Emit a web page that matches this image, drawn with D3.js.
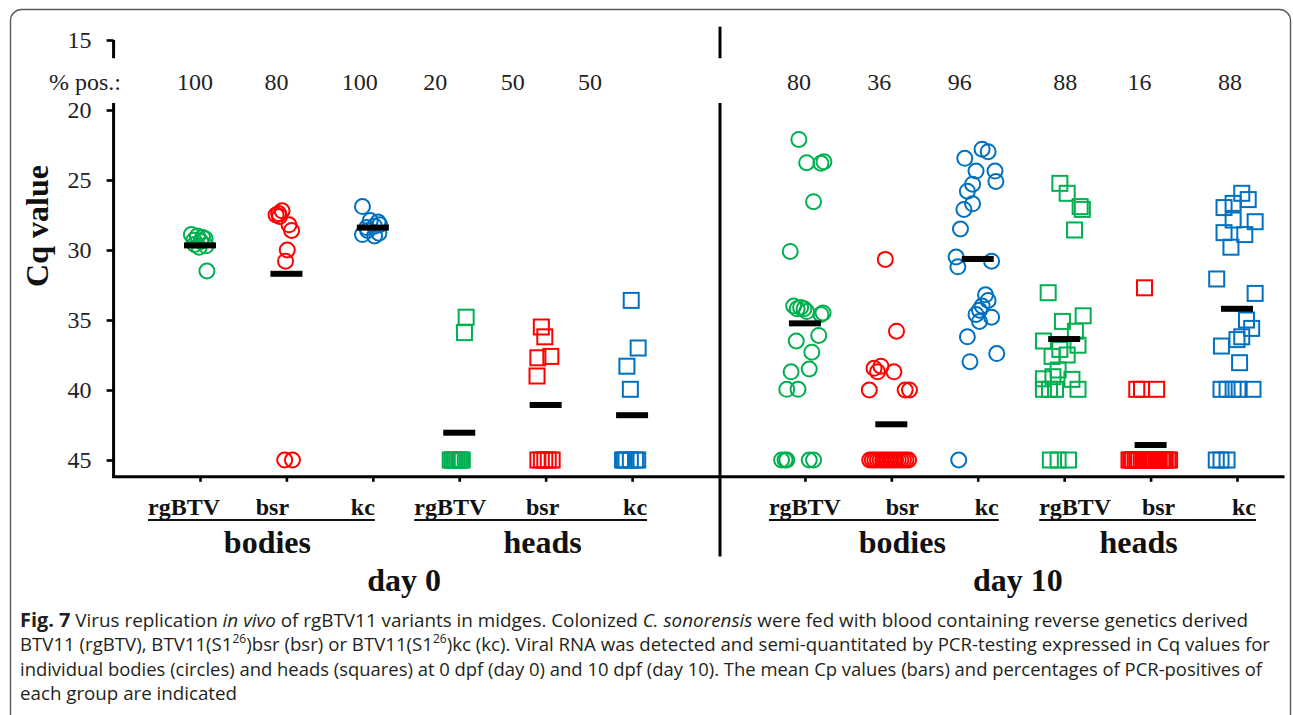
<!DOCTYPE html>
<html>
<head>
<meta charset="utf-8">
<script src="https://cdn.jsdelivr.net/npm/d3@7"></script>
<style>
  html, body { margin: 0; padding: 0; background: #fff; }
  svg { display: block; }
</style>
</head>
<body>
<svg id="chart" width="1293" height="715"></svg>
<script>
// ---------------- data ----------------
const days = ["day 0", "day 10"];
const tissues = ["bodies", "heads"];
const variants = ["rgBTV", "bsr", "kc"];
const yTickValues = [15, 20, 25, 30, 35, 40, 45];

// percentage of PCR-positive midges per group (order: day, tissue, variant)
const pctPositive = [100, 80, 100, 20, 50, 50, 80, 36, 96, 88, 16, 88];
// mean Cq per group (negatives counted as 45)
const meanCq = [29.67, 31.7, 28.4, 43.05, 41.07, 41.8, 35.24, 42.45, 30.64, 36.36, 43.93, 34.2];

// individual Cq values, day 0
const cqD0BodiesRg = [28.9, 29.0, 29.1, 29.2, 29.3, 29.4, 29.6, 29.7, 29.8, 31.5];
const cqD0BodiesBsr = [27.2, 27.4, 27.5, 27.6, 28.2, 28.6, 30.0, 30.8, 45, 45];
const cqD0BodiesKc = [26.9, 27.9, 28.0, 28.2, 28.3, 28.4, 28.6, 28.8, 28.9, 29.0];
const cqD0HeadsRg = [34.8, 35.9, 45, 45, 45, 45, 45, 45, 45, 45];
const cqD0HeadsBsr = [35.5, 36.2, 37.6, 37.7, 39.0, 45, 45, 45, 45, 45];
const cqD0HeadsKc = [33.6, 37.0, 38.3, 39.95, 45, 45, 45, 45, 45, 45];

// individual Cq values, day 10
const cqD10BodiesRg = [22.1, 23.76, 23.8, 23.7, 26.55, 30.1, 34.0, 34.2, 34.1, 34.2, 34.4, 34.6, 34.5,
  36.1, 36.5, 37.3, 38.5, 38.7, 39.95, 39.95, 45, 45, 45, 45, 45];
const cqD10BodiesBsr = [30.67, 35.8, 38.45, 38.3, 38.7, 38.7, 40, 40, 40,
  45, 45, 45, 45, 45, 45, 45, 45, 45, 45, 45, 45, 45, 45, 45, 45];
const cqD10BodiesKc = [23.45, 22.8, 22.98, 24.36, 24.36, 25.1, 25.3, 25.8, 26.7, 27.1, 28.5, 30.5, 31.2,
  30.8, 33.2, 33.6, 34.0, 34.8, 34.3, 34.6, 35.1, 36.2, 37.4, 37.98, 45];
const cqD10HeadsRg = [25.24, 25.95, 26.9, 27.1, 28.57, 33.05, 34.7, 35.1, 35.8, 36.5, 36.8, 37.6, 37.5,
  37.1, 38.57, 39.2, 39.05, 39.24, 39.95, 39.95, 39.95, 39.95, 45, 45, 45];
const cqD10HeadsBsr = [32.7, 39.95, 39.95, 39.95,
  45, 45, 45, 45, 45, 45, 45, 45, 45, 45, 45, 45, 45, 45, 45, 45, 45, 45, 45, 45, 45];
const cqD10HeadsKc = [25.95, 26.4, 26.67, 26.97, 27.98, 27.86, 28.76, 28.9, 29.8, 32.07, 33.1, 35.0, 35.6,
  36.2, 36.4, 36.86, 38.05, 39.95, 39.95, 39.95, 39.95, 39.95, 45, 45, 45];

const cqByGroup = [cqD0BodiesRg, cqD0BodiesBsr, cqD0BodiesKc, cqD0HeadsRg, cqD0HeadsBsr, cqD0HeadsKc,
  cqD10BodiesRg, cqD10BodiesBsr, cqD10BodiesKc, cqD10HeadsRg, cqD10HeadsBsr, cqD10HeadsKc];

// ---------------- layout ----------------
// horizontal spread of the dots inside a group, in category-slot units
const spreadByGroup = [
  [-0.10, -0.03, 0.03, 0.06, -0.07, 0.01, -0.06, 0.07, -0.01, 0.08],
  [-0.05, -0.09, -0.12, -0.08, 0.03, 0.06, 0.01, -0.01, -0.02, 0.07],
  [-0.12, -0.03, 0.06, 0.08, 0.02, -0.07, -0.06, 0.07, -0.12, 0.02],
  [0.08, 0.06, -0.105, -0.085, -0.065, -0.045, -0.025, -0.005, 0.015, 0.035],
  [-0.05, -0.01, 0.06, -0.09, -0.10, -0.09, -0.05, -0.01, 0.03, 0.075],
  [-0.01, 0.07, -0.06, -0.02, -0.11, -0.09, -0.07, -0.02, 0.04, 0.065],
  [-0.07, 0.02, 0.185, 0.22, 0.10, -0.17, -0.13, -0.09, -0.05, -0.01, 0.02, 0.185, 0.21,
   0.16, -0.10, 0.08, 0.05, -0.16, -0.21, -0.08, -0.27, -0.23, -0.21, 0.05, 0.10],
  [-0.07, 0.06, -0.20, -0.12, -0.16, 0.03, -0.255, 0.16, 0.21,
   -0.25, -0.22, -0.19, -0.16, -0.13, -0.10, -0.07, -0.04, -0.01, 0.02, 0.05, 0.08, 0.11, 0.14, 0.17, 0.20],
  [-0.15, 0.05, 0.12, -0.02, 0.20, 0.21, -0.06, -0.12, -0.06, -0.16, -0.20, -0.25, -0.23,
   0.16, 0.09, 0.12, 0.05, 0.16, 0.02, -0.02, 0.02, -0.12, 0.22, -0.09, -0.22],
  [-0.05, 0.035, 0.185, 0.21, 0.12, -0.185, 0.22, -0.02, 0.13, -0.24, 0.16, -0.14, 0.035,
   -0.05, -0.07, -0.24, -0.13, 0.09, -0.24, -0.17, -0.10, 0.16, -0.16, -0.07, 0.05],
  [-0.07, -0.16, -0.105, 0.07,
   -0.25, -0.23, -0.21, -0.18, -0.16, -0.14, -0.11, -0.09, -0.06, -0.04, -0.02, 0.01, 0.03,
   0.06, 0.08, 0.10, 0.13, 0.15, 0.17, 0.20, 0.22],
  [0.055, 0.13, -0.045, -0.15, 0.21, -0.045, -0.15, 0.09, -0.07, -0.235, 0.21, 0.11, 0.17,
   0.055, 0.00, -0.18, 0.03, -0.185, -0.115, -0.045, 0.025, 0.185, -0.24, -0.185, -0.115]
];

const colorByVariant = { rgBTV: "#00B050", bsr: "#FF0000", kc: "#0070C0" };
const serif = '"Liberation Serif", "Times New Roman", Times, serif';
const sans = '"Open Sans", "Noto Sans", Arial, sans-serif';

// label nudges (px) relative to the group tick positions
const pctNudge = [-5, -10, -13, -24, -33, -42, -6, -12, -18, 1, -11, -7];
const variantLabelNudge = [[-52, -14, 2], [-45, -3, 15], [-36, 11, 21], [-25, 8, 19]];
const tissueTitleNudge = [-19, -3, 11, -12];
const dayTitleNudge = [-12, -3];

const svg = d3.select("#chart");

// scales: one slot per group, slot 6 holds the day divider
const x = d3.scaleLinear().domain([0, 12]).range([200, 1237]);
const y = d3.scaleLinear().domain([20, 45]).range([110, 460]);
const yBottom = 46.2;

const groups = [];
days.forEach((day, di) => tissues.forEach((tissue, ti) => variants.forEach((variant, vi) => {
  groups.push({ day, tissue, variant, di, ti, vi, slot: di * 7 + ti * 3 + vi });
})));

// frame
svg.append("rect")
  .attr("x", 10.5).attr("y", 9.5).attr("width", 1280).attr("height", 780).attr("rx", 11)
  .attr("fill", "none").attr("stroke", "#5a5a5a").attr("stroke-width", 1.4);

// ---- y axis (broken above 20 to make room for the % row) ----
const yAxisG = svg.append("g").attr("transform", `translate(${x(-1)},0)`)
  .call(d3.axisLeft(y).tickValues(yTickValues).tickSize(7).tickPadding(15));
yAxisG.select(".domain").remove();
yAxisG.selectAll(".tick line").attr("stroke", "#000").attr("stroke-width", 2.6);
yAxisG.selectAll(".tick text").attr("font-family", serif).attr("font-size", 24).attr("fill", "#222");

const axisX0 = x(-1);
[[15, 16.3], [19.5, yBottom]].forEach(([a, b]) => {
  svg.append("line").attr("x1", axisX0).attr("x2", axisX0).attr("y1", y(a)).attr("y2", y(b))
    .attr("stroke", "#000").attr("stroke-width", 3);
});

// ---- x axis ----
const xAxisG = svg.append("g").attr("transform", `translate(0,${y(yBottom)})`)
  .call(d3.axisBottom(x).tickValues(groups.map(g => g.slot)).tickSize(5).tickFormat(""));
xAxisG.select(".domain").remove();
xAxisG.selectAll(".tick line").attr("stroke", "#000").attr("stroke-width", 2.6);
svg.append("line").attr("x1", axisX0 - 1.5).attr("x2", x(12.55)).attr("y1", y(yBottom)).attr("y2", y(yBottom))
  .attr("stroke", "#000").attr("stroke-width", 3);

// day divider
[[14.05, 16.3], [19.5, 51.9]].forEach(([a, b]) => {
  svg.append("line").attr("x1", x(6) + 1.5).attr("x2", x(6) + 1.5).attr("y1", y(a)).attr("y2", y(b))
    .attr("stroke", "#000").attr("stroke-width", 3);
});

// Cq axis title
svg.append("text")
  .attr("transform", `translate(48,226) rotate(-90)`)
  .attr("text-anchor", "middle").attr("font-family", serif).attr("font-weight", "bold")
  .attr("font-size", 32).attr("fill", "#111").text("Cq value");

// % positive row
const pctY = y(18.55);
svg.append("text").attr("x", 121).attr("y", pctY).attr("text-anchor", "end")
  .attr("font-family", serif).attr("font-size", 24).attr("fill", "#222").text("% pos.:");
svg.selectAll("text.pct").data(groups).join("text").attr("class", "pct")
  .attr("x", (g, i) => x(g.slot) + pctNudge[i]).attr("y", pctY)
  .attr("text-anchor", "middle").attr("font-family", serif).attr("font-size", 24).attr("fill", "#222")
  .text((g, i) => pctPositive[i]);

// ---- individual values ----
const markerR = 7.5, squareSide = 15;
groups.forEach((g, gi) => {
  const pts = cqByGroup[gi].map((v, i) => ({ v, cx: x(g.slot + spreadByGroup[gi][i]), cy: y(v) }));
  const col = colorByVariant[g.variant];
  const layer = svg.append("g").attr("fill", "none").attr("stroke", col).attr("stroke-width", 2);
  if (g.tissue === "bodies") {
    layer.selectAll("circle").data(pts).join("circle")
      .attr("cx", d => d.cx).attr("cy", d => d.cy).attr("r", markerR);
  } else {
    layer.selectAll("rect").data(pts).join("rect")
      .attr("x", d => d.cx - squareSide / 2).attr("y", d => d.cy - squareSide / 2)
      .attr("width", squareSide).attr("height", squareSide);
  }
});

// ---- mean bars ----
const barW = 32, barH = 6;
svg.selectAll("rect.mean").data(groups).join("rect").attr("class", "mean")
  .attr("x", g => x(g.slot) - barW / 2).attr("y", (g, i) => y(meanCq[i]) - barH / 2)
  .attr("width", barW).attr("height", barH).attr("fill", "#000");

// ---- category labels ----
const variantY = 515, tissueY = 553, dayY = 591;
days.forEach((day, di) => {
  tissues.forEach((tissue, ti) => {
    const k = di * 2 + ti;
    const slots = variants.map((v, vi) => di * 7 + ti * 3 + vi);
    const nud = variantLabelNudge[k];
    const xStart = x(slots[0]) + nud[0];
    const xEnd = x(slots[2]) + nud[2];
    const lab = svg.append("g").attr("font-family", serif).attr("font-weight", "bold")
      .attr("font-size", 24).attr("fill", "#111");
    lab.append("text").attr("x", xStart).attr("y", variantY).attr("text-anchor", "start").text(variants[0]);
    lab.append("text").attr("x", x(slots[1]) + nud[1]).attr("y", variantY).attr("text-anchor", "middle").text(variants[1]);
    lab.append("text").attr("x", xEnd).attr("y", variantY).attr("text-anchor", "end").text(variants[2]);
    svg.append("line").attr("x1", xStart).attr("x2", xEnd).attr("y1", variantY + 5).attr("y2", variantY + 5)
      .attr("stroke", "#111").attr("stroke-width", 2);
    svg.append("text").attr("x", x(slots[1]) + tissueTitleNudge[k]).attr("y", tissueY)
      .attr("text-anchor", "middle").attr("font-family", serif).attr("font-weight", "bold")
      .attr("font-size", 32).attr("fill", "#111").text(tissue);
  });
  svg.append("text").attr("x", x(di * 7 + 2.5) + dayTitleNudge[di]).attr("y", dayY)
    .attr("text-anchor", "middle").attr("font-family", serif).attr("font-weight", "bold")
    .attr("font-size", 32).attr("fill", "#111").text(day);
});

// ---- figure caption ----
const captionLines = [
  { y: 627, width: 1228, parts: [
    { t: "Fig. 7", w: "bold", size: 19.5 }, { t: "  Virus replication " }, { t: "in vivo", s: "italic" },
    { t: " of rgBTV11 variants in midges. Colonized " }, { t: "C. sonorensis", s: "italic" },
    { t: " were fed with blood containing reverse genetics derived" }] },
  { y: 651, width: 1250, parts: [
    { t: "BTV11 (rgBTV), BTV11(S1" }, { t: "26", sup: true }, { t: ")bsr (bsr) or BTV11(S1" },
    { t: "26", sup: true }, { t: ")kc (kc). Viral RNA was detected and semi-quantitated by PCR-testing expressed in Cq values for" }] },
  { y: 676, width: 1242, parts: [
    { t: "individual bodies (circles) and heads (squares) at 0 dpf (day 0) and 10 dpf (day 10). The mean Cp values (bars) and percentages of PCR-positives of" }] },
  { y: 700, width: 217, parts: [{ t: "each group are indicated" }] }
];
captionLines.forEach(line => {
  const t = svg.append("text").attr("x", 20).attr("y", line.y)
    .attr("font-family", sans).attr("font-size", 18.5).attr("fill", "#231f20")
    .attr("textLength", line.width).attr("lengthAdjust", "spacingAndGlyphs");
  line.parts.forEach(p => {
    const ts = t.append("tspan").text(p.t);
    if (p.w) ts.attr("font-weight", p.w);
    if (p.size) ts.attr("font-size", p.size);
    if (p.s) ts.attr("font-style", p.s);
    if (p.sup) ts.attr("font-size", 12).attr("baseline-shift", "super");
  });
});
</script>
</body>
</html>
